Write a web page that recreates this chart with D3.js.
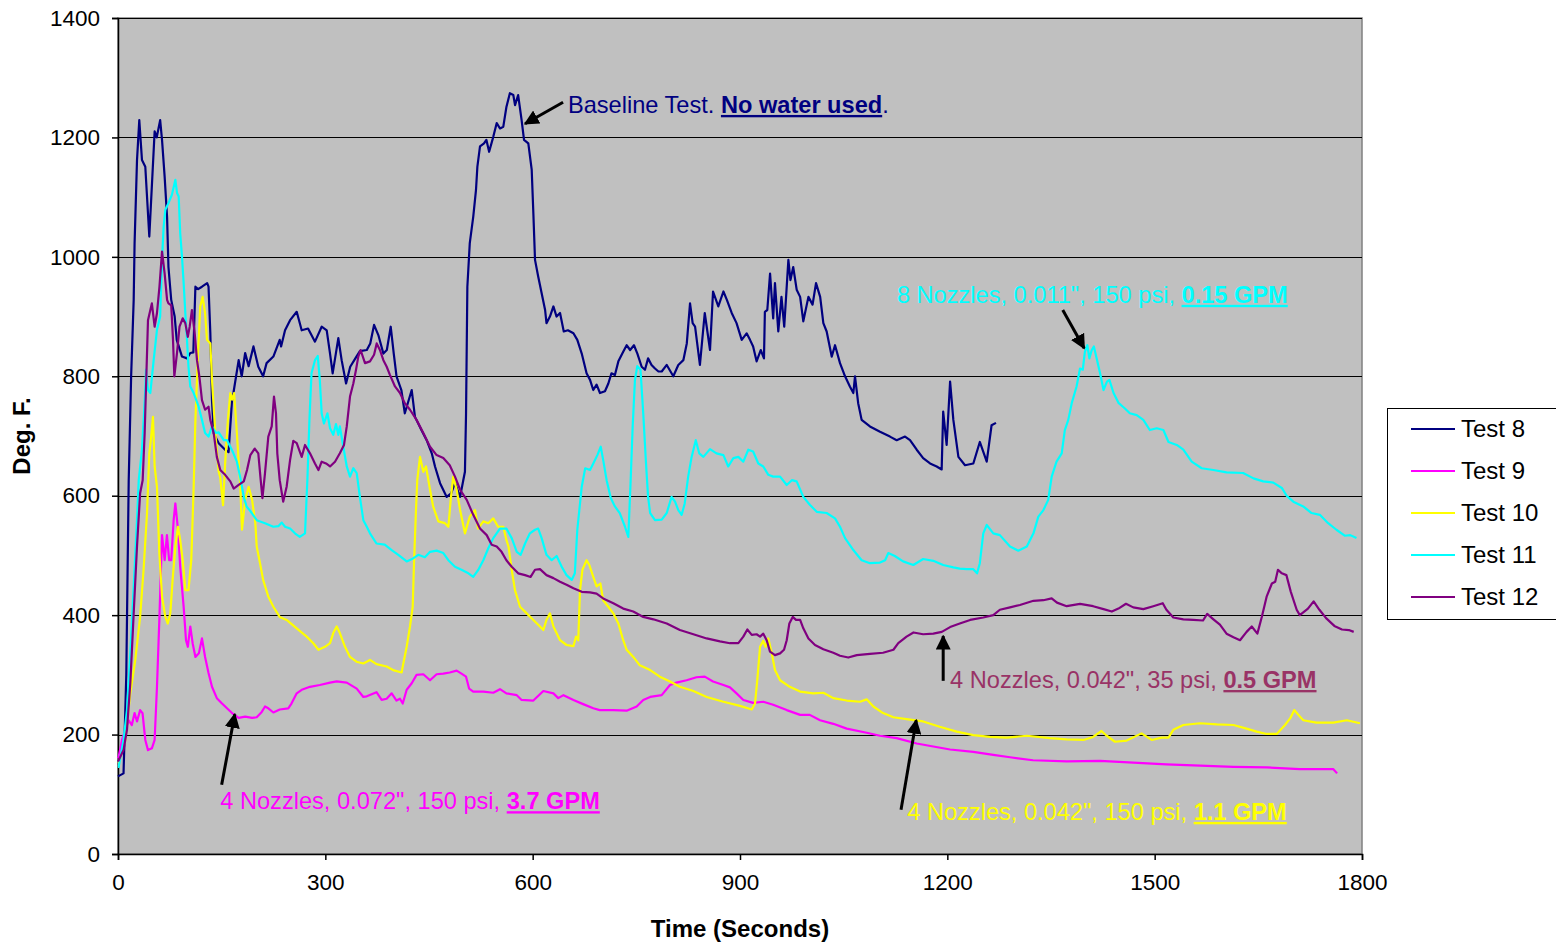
<!DOCTYPE html>
<html>
<head>
<meta charset="utf-8">
<script src="https://cdn.jsdelivr.net/npm/d3@7"></script>
<style>
  body { margin: 0; background: #fff; }
  svg text { font-family: Arial, "Liberation Sans", sans-serif; }
</style>
</head>
<body>
<svg id="chart" width="1556" height="942"></svg>
<script>
// series: [time (s), temperature (deg F)]
const test8 = [[0,130],[8,135],[12,300],[15.5,626],[19,800],[22.7,928],[24,1023],[27.5,1162],[30.8,1229],[34.7,1162],[39.5,1151],[45.3,1034],[53,1210],[56,1200],[61,1229],[63.7,1196],[67.5,1134],[71,1067],[73,983],[77,928],[82,900],[85,861],[92.6,833],[99.8,830],[104.6,839],[109,840],[112,950],[116,946],[121.5,950],[129,956],[131,950],[133.6,872],[136,760],[138.6,704],[145.7,688],[155,677],[160,673],[165,760],[167,772],[174.6,827],[179,800],[184,839],[189,817],[196,850],[203,816],[210,800],[215,822],[224.8,833],[234,861],[236,850],[241.7,877],[249,894],[258.6,908],[265.8,877],[275,880],[285,858],[294.7,883],[302,877],[306.8,838],[310.6,805],[318.8,864],[323.6,827],[330,788],[336,816],[345,833],[350,842],[360,844],[365,855],[370.5,886],[376.7,869],[384,838],[389,844],[394.6,883],[399,838],[403,800],[410,777],[415,738],[425,777],[429.7,732],[439,710],[446.6,693],[454,671],[458.7,649],[466,621],[475.6,598],[482,604],[487.6,621],[495,598],[499.6,626],[502,640],[503.6,738],[504.6,850],[505.5,950],[509,1023],[514,1067],[518,1112],[520,1151],[523.8,1185],[529.6,1190],[533,1196],[537,1176],[543,1201],[548,1224],[552.7,1215],[557.5,1218],[562,1251],[567,1274],[572,1271],[574.5,1254],[579,1271],[584,1229],[587.5,1196],[593.7,1190],[598.6,1146],[601,1073],[603.4,995],[608,967],[613,939],[618,911],[620,889],[625,900],[630,917],[634.6,900],[639.6,906],[645,875],[651,877],[659,872],[664.6,861],[671,838],[678,805],[683,794],[687.7,777],[692.5,786],[697.4,772],[704.6,775],[709.5,788],[714,805],[719,802],[724,825],[731,841],[736,852],[741,844],[746.6,852],[751.5,838],[757.7,816],[762.5,811],[767,830],[772,819],[777,813],[782,808],[786.7,808],[794,819],[803.5,800],[810.7,819],[818,827],[823,855],[827.7,922],[831.5,889],[835,883],[842,819],[849,906],[856.6,844],[861,942],[868.6,917],[876,942],[881,928],[888,906],[895,889],[902.5,861],[909.6,872],[914.5,861],[919,850],[924,825],[930,844],[934.7,830],[936,908],[939.5,911],[943.5,972],[948,897],[950.6,956],[955.4,875],[960,933],[964,883],[970,995],[973,961],[977,983],[982,945],[987,933],[991.6,892],[999,933],[1005,920],[1010,956],[1016,933],[1020.6,889],[1025.4,875],[1032.7,833],[1037.5,852],[1044.7,822],[1052,800],[1059,783],[1064,772],[1066.4,800],[1071,755],[1076,727],[1088,716],[1102.6,707],[1117,699],[1126.7,693],[1138.8,699],[1146,693],[1155.7,677],[1165,663],[1175,654],[1184.6,649],[1191.8,644],[1194,741],[1199,685],[1204,791],[1208.7,727],[1216,665],[1225.6,651],[1237.6,654],[1247,690],[1257,657],[1264,718],[1270.4,722]];

const test9 = [[0,160],[1,163],[5.8,191],[10.6,208],[15.4,224],[20,216],[24,236],[27.5,222],[32,241],[35.5,236],[39.5,191],[43.4,174],[49,177],[53,191],[56.4,280],[59.8,392],[63.7,534],[67.5,492],[70.8,534],[74,492],[77,492],[80.5,559],[83,587],[86.8,543],[90,481],[95,414],[98.4,358],[101,347],[104.6,381],[108,353],[112,330],[117,336],[121.5,361],[126,330],[131,303],[136,280],[143,261],[150.5,252],[157.7,244],[165,236],[174.6,228],[184,230],[194,228],[200.7,229],[208,238],[212.7,247],[217.5,244],[224.8,237],[234,242],[246.4,244],[251,252],[258.6,269],[265.8,275],[277.8,280],[292,283],[306.8,287],[316.4,289],[331,287],[345.4,277],[355,263],[360,264],[374,271],[381.5,258],[388.7,260],[396,269],[403,257],[408,260],[412,252],[417.7,275],[425,286],[432,300],[441.8,301],[451.5,291],[461,301],[470.6,302],[480,304],[490,307],[497,302],[503.6,297],[508,277],[514,272],[528.6,272],[543,270],[552.7,276],[562,269],[577,266],[584,258],[601,257],[615.4,273],[630,269],[637,261],[644.6,266],[659,258],[673,251],[687.7,244],[697,241],[716.7,241],[736,240],[750.5,247],[760,258],[770,263],[786.7,266],[798.7,283],[808,287],[822.7,291],[837,296],[849,297],[861,289],[876,283],[885.5,279],[895,269],[904.8,258],[919,253],[933.7,255],[948,250],[967.6,241],[987,233],[1001,233],[1015.8,224],[1035,218],[1054.4,210],[1083.3,203],[1102.6,198],[1126.7,194],[1155.7,185],[1179.7,180],[1204,175],[1237.6,171],[1266.5,166],[1290.7,162],[1324,157],[1372.7,155],[1421,156],[1469,153],[1517,150],[1565.6,148],[1614,146],[1662,145],[1710,142],[1739,142],[1758.6,142],[1764,135]];

const test10 = [[0,152],[1,152],[10.6,191],[17.8,269],[25,325],[32,397],[37,476],[42,571],[45.3,671],[48,699],[50.6,732],[53,649],[56.4,615],[59.8,504],[63.7,431],[68.5,397],[72,386],[75.7,403],[79,459],[83,515],[86.8,548],[90,526],[93.6,492],[97.4,442],[102,442],[106,492],[109.5,615],[112,727],[115.8,838],[119,917],[122.5,933],[126,906],[128.8,861],[133.6,855],[136,794],[140.8,705],[145.7,640],[148,630],[152,584],[155,654],[159,727],[162.5,772],[165,761],[168,772],[172,705],[175,650],[177,615],[179.4,543],[184,593],[189,615],[194,593],[198.7,554],[200.7,515],[205.5,487],[210,459],[217.5,431],[224.8,414],[234,397],[244,392],[258.6,378],[273,364],[282.6,353],[290,342],[299.5,347],[306.8,353],[311.5,370],[316.4,381],[321,370],[328.5,347],[335.7,330],[345,322],[355,319],[364.6,325],[374,318],[388.7,314],[398,308],[410.5,304],[412,314],[417.7,347],[422.5,381],[426.4,414],[428.3,487],[431,571],[433,626],[437,665],[441.8,640],[445.7,649],[451.5,610],[456,582],[463.5,557],[473,554],[478,548],[481.4,593],[485,632],[490,610],[495,576],[502,537],[509,565],[516.6,576],[521,545],[528.6,557],[535.8,554],[543,562],[550,548],[557.5,548],[562,526],[565,515],[569.7,476],[574.4,442],[581.7,414],[591.4,403],[601,392],[610.6,381],[615.4,375],[620,392],[625,403],[630,381],[639.6,358],[649,350],[659,348],[662.7,364],[666,358],[668.5,442],[672,476],[678,492],[682,484],[687.7,464],[692.5,448],[698,453],[702,425],[709.5,414],[716.7,403],[724,386],[731,358],[736,342],[745.6,330],[755,316],[770,308],[784,297],[798.7,289],[813,280],[832.5,273],[851.8,263],[876,255],[900,248],[917,242],[921.7,252],[925,291],[929,347],[933.7,357],[937,347],[941,361],[946,336],[950.6,308],[958,291],[972,280],[987,272],[1006,269],[1020.6,270],[1035,261],[1054.4,257],[1073.6,255],[1083.3,259],[1093,247],[1107,236],[1122,229],[1141,226],[1165,222],[1189,213],[1213.6,205],[1237.6,199],[1261.8,196],[1286,195],[1315,198],[1348.6,194],[1372.7,192],[1397,191],[1411,196],[1423,206],[1430.6,198],[1442.6,188],[1459.5,190],[1481,202],[1495.7,191],[1510,195],[1520,195],[1527,208],[1541.5,216],[1565.6,219],[1590,217],[1614,216],[1633,210],[1647.6,205],[1662,201],[1676.6,201],[1688.6,216],[1696,227],[1702,241],[1708,233],[1715,224],[1734,220],[1758.6,220],[1778,224],[1797,219]];

const test11 = [[0,146],[1,146],[8,191],[13,241],[17.8,336],[22.7,448],[27.5,559],[30,626],[34.7,677],[39.5,777],[40.5,811],[43.4,777],[46.8,772],[51.6,827],[56.4,878],[61,900],[63.7,995],[66,1050],[68.5,1079],[73,1090],[78,1104],[83,1129],[85.4,1107],[87.8,1101],[90,1040],[92.6,1000],[95,956],[97.4,906],[99.8,861],[102,816],[104.6,783],[109.5,772],[116.7,749],[121.5,727],[126,705],[131,699],[136,716],[141.8,705],[145.7,706],[153,693],[157.7,693],[162.5,682],[167,671],[172,657],[177,630],[182,598],[186,582],[191,575],[200.7,559],[212.7,554],[224.8,548],[232,549],[237,555],[241.7,548],[249,545],[256,537],[263,531],[270.6,537],[274,626],[277,727],[280,805],[285,827],[289,834],[292,794],[294.7,738],[298,721],[303,738],[306.8,713],[311.5,702],[315.4,720],[318.8,702],[321,716],[326,682],[331,649],[335.7,632],[340.5,646],[345.4,638],[350,598],[355,559],[360,548],[364.6,537],[374,520],[386,518],[396,509],[405.6,501],[417.7,490],[427,495],[434.5,501],[444,497],[451.5,506],[461,508],[470.7,504],[478,492],[487.6,481],[497,476],[507,470],[514,464],[521.4,476],[528.6,492],[535.8,512],[543,529],[552.7,545],[562,545],[569.7,529],[577,506],[582.6,501],[589,520],[596,537],[603.4,543],[608,545],[613,529],[620,501],[627.5,492],[634.7,499],[642,481],[649,467],[656.5,459],[661,470],[664.6,543],[667.5,576],[671,615],[676,646],[683,643],[687.7,654],[693.6,668],[698.5,682],[702,660],[707,626],[713,596],[719,582],[726,571],[733.6,548],[738.4,531],[741.8,626],[744.7,716],[748,794],[751.4,817],[756,811],[760,738],[764,654],[767,598],[770,571],[777,559],[786.7,560],[794,571],[801,598],[806,590],[810.7,576],[815.6,568],[820,587],[825,632],[830,665],[836,693],[841,671],[847,665],[856.6,678],[866,671],[876,668],[883,649],[890.4,663],[897.6,665],[904.8,657],[912,677],[919,674],[926.5,654],[933.7,649],[941,635],[948,632],[958,632],[967.6,618],[975,626],[982,624],[991.6,598],[1001,585],[1011,573],[1025.4,571],[1037.5,562],[1044.7,548],[1052,529],[1064,509],[1076,492],[1088,487],[1102.6,488],[1110,492],[1114.6,504],[1124,499],[1136,490],[1150.8,484],[1165,494],[1179.7,491],[1194,484],[1208.7,480],[1218,478],[1228,477],[1237.6,477],[1243,470],[1247,487],[1252,537],[1257,551],[1266.5,537],[1276,534],[1290.7,515],[1302.7,508],[1315,515],[1324.6,537],[1331.7,565],[1339,576],[1346,593],[1351,632],[1358,657],[1365.5,671],[1370,710],[1375,727],[1380,755],[1387,783],[1392,813],[1396,811],[1399,841],[1402.6,852],[1405.5,830],[1409,844],[1412,850],[1416,830],[1421,805],[1426,777],[1431,791],[1434.5,794],[1440.5,772],[1448,755],[1457,746],[1464,738],[1474,735],[1483.6,727],[1493,710],[1503,713],[1512.6,710],[1520,690],[1532,685],[1541.5,677],[1553.6,657],[1568,646],[1585,643],[1604,639],[1628,638],[1643,629],[1657,624],[1671.7,622],[1684,613],[1691,600],[1700.6,590],[1715,582],[1727,571],[1739,568],[1751,554],[1763,543],[1775,533],[1783,534],[1792,529]];

const test12 = [[0,155],[1,157],[8,174],[13,208],[17.8,286],[22.7,403],[27.5,515],[32,604],[35.7,626],[38.6,705],[43.4,894],[46.8,911],[49,922],[53,883],[56.4,906],[60,950],[63.7,1009],[67.5,972],[71,928],[73,922],[77,919],[79.6,861],[81.5,800],[85.4,839],[89,883],[93.6,897],[97.4,889],[101,866],[103.7,883],[107,911],[111,872],[114.3,827],[117.7,800],[121.5,760],[126,744],[131,749],[133.6,727],[138.5,705],[143,665],[148,643],[155,635],[162.5,624],[167.4,612],[174.6,618],[182,624],[186.7,643],[191.5,668],[197.8,679],[203,671],[206.5,626],[209,596],[212.7,638],[217.5,699],[222.4,716],[225.7,766],[228.6,738],[230.5,671],[234,626],[239,590],[244,615],[249,660],[253.7,692],[258.6,688],[265.8,665],[270.6,685],[277.8,671],[285,654],[290,643],[294.7,657],[301,654],[306.8,649],[314,657],[321,671],[327,685],[331,716],[335.7,766],[340.5,788],[344.4,811],[347.7,833],[351,844],[357.4,822],[364.6,825],[370.5,836],[374.3,855],[379,844],[384,827],[388.8,816],[393.6,802],[400.8,783],[408,772],[415,755],[422.5,744],[432,727],[441.8,705],[451.5,682],[461,668],[470.7,663],[480,651],[487.6,632],[495,610],[504.6,593],[514,568],[523.8,545],[533.5,534],[540.7,518],[548,515],[555,506],[562,492],[569.7,481],[579,470],[589,467],[597,464],[603.4,476],[610.6,477],[620,467],[630,462],[639.6,456],[649,451],[659,445],[671,439],[683,438],[692.5,436],[702,428],[716.7,420],[731,411],[745.6,406],[760,397],[774.6,393],[794,386],[813,375],[832.5,368],[851.8,361],[871,356],[885.5,353],[897.6,353],[904.8,364],[910.6,376],[917,367],[924,368],[929,364],[933.7,369],[938.6,358],[943.4,339],[950.6,333],[958,336],[963.7,342],[967.6,358],[971.4,386],[976.3,397],[981,392],[987,392],[991.6,378],[999,361],[1008.5,350],[1020.6,343],[1035,337],[1044.7,332],[1056.7,329],[1069,333],[1088,335],[1107,337],[1122,342],[1129,353],[1141,364],[1151,371],[1165,368],[1179.7,369],[1192,372],[1204,380],[1218,386],[1233,392],[1252,396],[1266.5,400],[1276,409],[1290.7,413],[1305,417],[1324.6,424],[1339,425],[1351,428],[1358.6,421],[1372.7,415],[1392,419],[1411,415],[1426,410],[1438,406],[1447.6,411],[1458.5,419],[1469,413],[1483.6,410],[1498,415],[1511.7,420],[1517,409],[1527,396],[1541.5,393],[1556,392],[1570,391],[1576,402],[1585,393],[1594.4,384],[1604,369],[1614,363],[1623.5,358],[1633,372],[1640.5,381],[1648.6,369],[1655,397],[1662,431],[1669.6,453],[1674.4,456],[1678.4,476],[1684,470],[1690.6,467],[1697,439],[1705.5,409],[1710,400],[1721.8,411],[1730,423],[1738.4,409],[1748,395],[1760,382],[1771,376],[1781,375],[1788,372]];

const seriesNames = ["Test 8", "Test 9", "Test 10", "Test 11", "Test 12"];
const seriesColors = ["#000080", "#FF00FF", "#FFFF00", "#00FFFF", "#800080"];
const seriesData = [test8, test9, test10, test11, test12];

const xTicks = [0, 300, 600, 900, 1200, 1500, 1800];
const yTicks = [0, 200, 400, 600, 800, 1000, 1200, 1400];

// annotations in data units: text anchor, arrow tail, arrow tip
const noteTexts = ["Baseline Test. ", "8 Nozzles, 0.011\", 150 psi, ", "4 Nozzles, 0.042\", 35 psi, ", "4 Nozzles, 0.072\", 150 psi, ", "4 Nozzles, 0.042\", 150 psi, "];
const noteBold = ["No water used", "0.15 GPM", "0.5 GPM", "3.7 GPM", "1.1 GPM"];
const noteTail = [".", "", "", "", ""];
const noteColors = ["#000080", "#00FFFF", "#993366", "#FF00FF", "#FFFF00"];
const noteAt = [[651, 1241], [1127, 923], [1204, 278], [148, 75], [1142, 57]];
const arrowFrom = [[644, 1259], [1367, 911], [1194, 290], [150, 116], [1133, 74]];
const arrowTo = [[589, 1223], [1398, 847], [1194, 365], [169, 234], [1155, 224]];

const svg = d3.select("#chart");
const plotLeft = 118, plotTop = 18, plotRight = 1362, plotBottom = 854;

const x = d3.scaleLinear().domain([0, 1800]).range([plotLeft, plotRight]);
const y = d3.scaleLinear().domain([0, 1400]).range([plotBottom, plotTop]);

svg.append("rect")
    .attr("x", plotLeft).attr("y", plotTop)
    .attr("width", plotRight - plotLeft).attr("height", plotBottom - plotTop)
    .attr("fill", "#C0C0C0")
    .attr("stroke", "#808080").attr("stroke-width", 1.5);

// gridlines
svg.append("g")
    .selectAll("line")
    .data(yTicks.filter(d => d > 0))
    .join("line")
    .attr("x1", plotLeft).attr("x2", plotRight)
    .attr("y1", d => Math.round(y(d)) + 0.5).attr("y2", d => Math.round(y(d)) + 0.5)
    .attr("stroke", "#000").attr("stroke-width", 1);

const yAxis = svg.append("g")
    .attr("transform", `translate(${plotLeft},0)`)
    .call(d3.axisLeft(y).tickValues(yTicks).tickSize(6).tickPadding(12).tickFormat(d3.format("d")));
const xAxis = svg.append("g")
    .attr("transform", `translate(0,${plotBottom})`)
    .call(d3.axisBottom(x).tickValues(xTicks).tickSize(6).tickPadding(14).tickFormat(d3.format("d")));

[yAxis, xAxis].forEach(g => {
    g.select(".domain").attr("stroke", "#000").attr("stroke-width", 1.5);
    g.selectAll(".tick line").attr("stroke", "#000").attr("stroke-width", 1.5);
    g.selectAll("text").attr("font-size", "22.5px").attr("fill", "#000")
        .attr("font-family", "Arial, 'Liberation Sans', sans-serif");
});

svg.append("text")
    .attr("transform", `translate(30,${(plotTop + plotBottom) / 2}) rotate(-90)`)
    .attr("text-anchor", "middle")
    .attr("font-size", "24px").attr("font-weight", "bold")
    .text("Deg. F.");

svg.append("text")
    .attr("x", 740).attr("y", 937)
    .attr("text-anchor", "middle")
    .attr("font-size", "24px").attr("font-weight", "bold")
    .text("Time (Seconds)");

// series lines
const line = d3.line().x(d => x(d[0])).y(d => y(d[1]));
svg.append("g")
    .selectAll("path")
    .data(seriesData)
    .join("path")
    .attr("d", line)
    .attr("fill", "none")
    .attr("stroke", (d, i) => seriesColors[i])
    .attr("stroke-width", 2.2)
    .attr("stroke-linejoin", "round");

// arrows
svg.append("defs").append("marker")
    .attr("id", "arrowhead")
    .attr("viewBox", "0 0 10 10")
    .attr("refX", 9).attr("refY", 5)
    .attr("markerWidth", 5).attr("markerHeight", 5)
    .attr("markerUnits", "strokeWidth")
    .attr("orient", "auto")
    .append("path")
    .attr("d", "M0,0 L10,5 L0,10 z")
    .attr("fill", "#000");

svg.append("g")
    .selectAll("line")
    .data(d3.range(arrowFrom.length))
    .join("line")
    .attr("x1", i => x(arrowFrom[i][0])).attr("y1", i => y(arrowFrom[i][1]))
    .attr("x2", i => x(arrowTo[i][0])).attr("y2", i => y(arrowTo[i][1]))
    .attr("stroke", "#000").attr("stroke-width", 3)
    .attr("marker-end", "url(#arrowhead)");

// annotation texts
const notes = svg.append("g")
    .selectAll("text")
    .data(d3.range(noteTexts.length))
    .join("text")
    .attr("x", i => x(noteAt[i][0])).attr("y", i => y(noteAt[i][1]))
    .attr("font-size", "23.6px")
    .attr("fill", i => noteColors[i]);
notes.append("tspan").text(i => noteTexts[i]);
notes.append("tspan")
    .attr("font-weight", "bold")
    .style("text-decoration", "underline")
    .text(i => noteBold[i]);
notes.append("tspan").text(i => noteTail[i]);

// legend
const legend = svg.append("g");
legend.append("rect")
    .attr("x", 1387.5).attr("y", 408.5)
    .attr("width", 180).attr("height", 211)
    .attr("fill", "#fff").attr("stroke", "#000").attr("stroke-width", 1);
const rows = legend.selectAll("g.row")
    .data(seriesNames)
    .join("g")
    .attr("class", "row")
    .attr("transform", (d, i) => `translate(0,${429 + i * 42})`);
rows.append("line")
    .attr("x1", 1411).attr("x2", 1455)
    .attr("stroke", (d, i) => seriesColors[i]).attr("stroke-width", 2);
rows.append("text")
    .attr("x", 1461).attr("y", 8)
    .attr("font-size", "24px").attr("fill", "#000")
    .text(d => d);
</script>
</body>
</html>
